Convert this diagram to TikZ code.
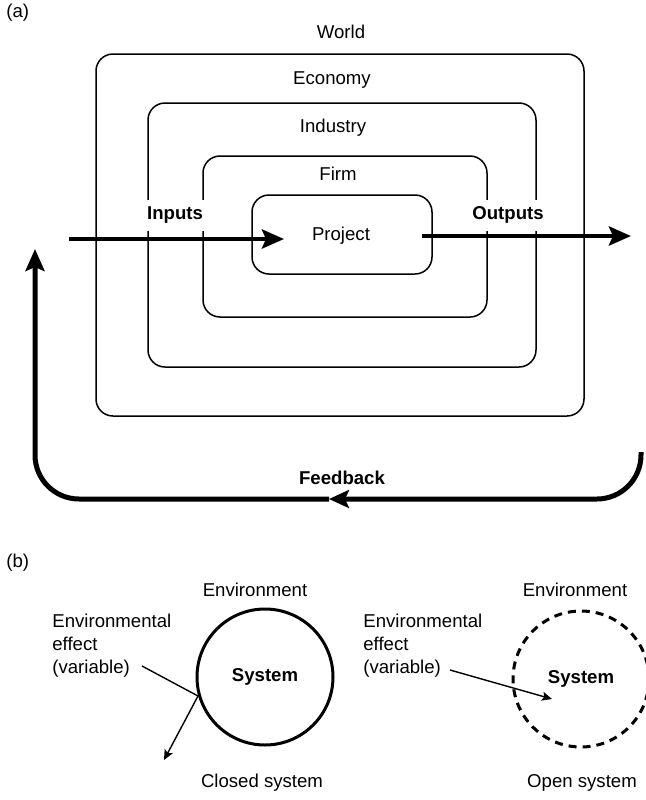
\documentclass[tikz,border=0pt]{standalone}
\usepackage{fontspec}
\setmainfont{Liberation Sans}
\usetikzlibrary{arrows.meta}
\begin{document}
\begin{tikzpicture}[x=0.5pt,y=-0.5pt,
  txt/.style={font=\fontsize{9.3}{11.5}\selectfont, inner sep=0pt},
  btxt/.style={font=\fontsize{9.3}{11.5}\selectfont\bfseries, inner sep=0pt},
  lbl/.style={btxt, fill=white, inner xsep=1.5pt, minimum height=15.5pt},
  box/.style={draw, line width=0.75pt, rounded corners=8.5pt, inner sep=0pt, outer sep=0pt},
  flow/.style={line width=2.2pt, -{Stealth[length=11pt,width=9.5pt,inset=2pt]}},
  fb/.style={line width=2.5pt, rounded corners=22pt},
  fbtip/.style={-{Stealth[length=10pt,width=9pt,inset=2pt]}},
  sys/.style={circle, line width=1.5pt, minimum size=68pt, inner sep=0pt, btxt},
  thin/.style={line width=0.7pt},
  thinarrow/.style={thin, -{Stealth[length=5pt,width=4.5pt,inset=1pt]}}
]
\useasboundingbox (0,0) rectangle (645,800);

% ---------- (a) ----------
\node[txt, anchor=west] (la) at (6,13) {(a)};

\node[box, minimum width=244pt, minimum height=181pt] (world) at (340,235) {};
\node[box, minimum width=194pt, minimum height=132pt] (economy) at (342,235) {};
\node[box, minimum width=142pt, minimum height=80.5pt] (industry) at (345,236.5) {};
\node[box, minimum width=90pt, minimum height=39.5pt] (project) at (342,234.5) {};

\node[txt] (tworld) at (341,32) {World};
\node[txt] (teco) at (332,80) {Economy};
\node[txt] (tind) at (333,128) {Industry};
\node[txt] (tfirm) at (338,174) {Firm};
\node[txt] (tproj) at (341,236) {Project};

\node[lbl] (inputs) at (175,215) {Inputs};
\node[lbl] (outputs) at (508,215) {Outputs};

\coordinate (inA) at (69,239);
\coordinate (inB) at (284,239);
\coordinate (outA) at (422,236);
\coordinate (outB) at (631,236);
\draw[flow] (inA) -- (inB);
\draw[flow] (outA) -- (outB);

\coordinate (fbS) at (641,452);
\coordinate (fbM) at (329,499);
\coordinate (fbE) at (35,249);
\draw[fb, fbtip] (fbS) |- (fbM);
\draw[fb, -{Stealth[length=11pt,width=9.5pt,inset=2pt]}] (fbM) -| (fbE);
\node[btxt] (feedback) at (342,478) {Feedback};

% ---------- (b) ----------
\node[txt, anchor=west] (lb) at (6,563) {(b)};

\node[txt] (envL) at (255,590) {Environment};
\node[sys, draw] (sysL) at (265,677) {System};
\node[txt, anchor=west, align=left] (effL) at (52,646) {Environmental\\effect\\(variable)};
\coordinate (eA) at (142,666);
\coordinate (eB) at (198,696);
\coordinate (eC) at (164,760);
\draw[thin] (eA) -- (eB);
\draw[thinarrow] (eB) -- (eC);
\node[txt] (closed) at (262,783) {Closed system};

\node[txt] (envR) at (575,590) {Environment};
\node[sys, draw, dash pattern=on 4pt off 3pt] (sysR) at (581,679) {System};
\node[txt, anchor=west, align=left] (effR) at (363,646) {Environmental\\effect\\(variable)};
\coordinate (fA) at (450,670);
\coordinate (fB) at (552,699);
\draw[thinarrow] (fA) -- (fB);
\node[txt] (open) at (582,783) {Open system};
\end{tikzpicture}
\end{document}
